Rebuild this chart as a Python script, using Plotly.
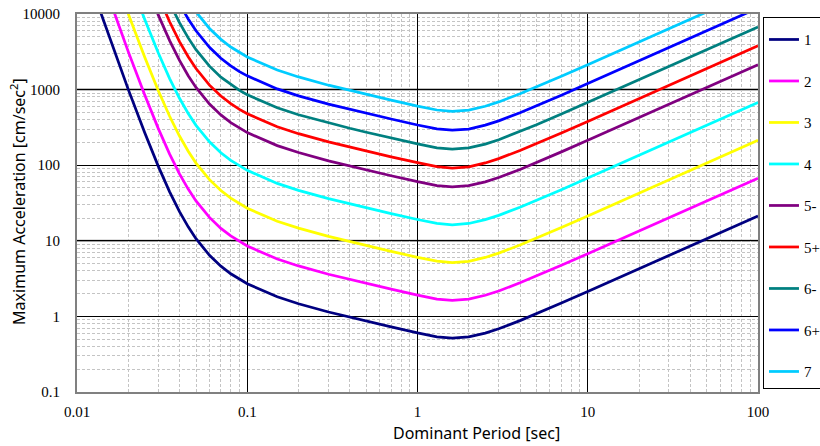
import plotly.graph_objects as go

# Dominant period [sec]
periods = [0.01, 0.012, 0.014, 0.016, 0.018, 0.02, 0.025, 0.03, 0.035, 0.04, 0.045, 0.05,
           0.06, 0.07, 0.08, 0.09, 0.1, 0.15, 0.2, 0.3, 0.4, 0.5, 0.7,
           1, 1.3, 1.6, 2, 2.5, 3, 4, 5, 7, 10, 20, 50, 100]

# Maximum acceleration [cm/sec^2] for each seismic intensity level
int_1 = [78400, 24500, 9210, 3980, 1917, 1006, 268, 97.2, 44.4, 24.3, 15.28, 10.67,
         6.44, 4.62, 3.66, 3.08, 2.70, 1.815, 1.470, 1.143, 0.974, 0.864, 0.725,
         0.605, 0.537, 0.515, 0.536, 0.602, 0.687, 0.879, 1.082, 1.500, 2.135, 4.26, 10.65, 21.3]
int_2 = [248000, 77500, 29100, 12600, 6060, 3180, 847, 307, 140, 76.8, 48.3, 33.7,
         20.4, 14.6, 11.6, 9.74, 8.54, 5.74, 4.65, 3.61, 3.08, 2.73, 2.29,
         1.913, 1.698, 1.629, 1.695, 1.904, 2.17, 2.78, 3.42, 4.74, 6.75, 13.47, 33.7, 67.4]
int_3 = [784000, 245000, 92100, 39800, 19170, 10060, 2680, 972, 444, 243, 152.8, 106.7,
         64.4, 46.2, 36.6, 30.8, 27.0, 18.15, 14.70, 11.43, 9.74, 8.64, 7.25,
         6.05, 5.37, 5.15, 5.36, 6.02, 6.87, 8.79, 10.82, 15.00, 21.35, 42.6, 106.5, 213]
int_4 = [2480000, 775000, 291000, 126000, 60600, 31800, 8470, 3070, 1400, 768, 483, 337,
         204, 146, 116, 97.4, 85.4, 57.4, 46.5, 36.1, 30.8, 27.3, 22.9,
         19.13, 16.98, 16.29, 16.95, 19.04, 21.7, 27.8, 34.2, 47.4, 67.5, 134.7, 337, 674]
int_5l = [7840000, 2450000, 921000, 398000, 191700, 100600, 26800, 9720, 4440, 2430, 1528, 1067,
          644, 462, 366, 308, 270, 181.5, 147.0, 114.3, 97.4, 86.4, 72.5,
          60.5, 53.7, 51.5, 53.6, 60.2, 68.7, 87.9, 108.2, 150.0, 213.5, 426, 1065, 2130]
int_5u = [13900000, 4360000, 1640000, 708000, 341000, 179000, 47700, 17300, 7900, 4320, 2720, 1900,
          1145, 822, 651, 548, 480, 323, 261, 203, 173, 154, 129,
          108, 95.5, 91.6, 95.3, 107.1, 122.2, 156.3, 192.4, 266.7, 379.7, 757.6, 1894, 3788]
int_6l = [24800000, 7750000, 2910000, 1260000, 606000, 318000, 84700, 30700, 14000, 7680, 4830, 3370,
          2040, 1460, 1160, 974, 854, 574, 465, 361, 308, 273, 229,
          191.3, 169.8, 162.9, 169.5, 190.4, 217, 278, 342, 474, 675, 1347, 3370, 6740]
int_6u = [44100000, 13800000, 5180000, 2240000, 1080000, 566000, 151000, 54700, 25000, 13700, 8590, 6000,
          3620, 2600, 2060, 1730, 1520, 1021, 827, 643, 548, 486, 408,
          340, 302, 290, 301, 339, 386, 494, 608, 844, 1200, 2400, 5990, 12000]
int_7 = [78400000, 24500000, 9210000, 3980000, 1917000, 1006000, 268000, 97200, 44400, 24300, 15280, 10670,
         6440, 4620, 3660, 3080, 2700, 1815, 1470, 1143, 974, 864, 725,
         605, 537, 515, 536, 602, 687, 879, 1082, 1500, 2135, 4260, 10650, 21300]

labels = ["1", "2", "3", "4", "5-", "5+", "6-", "6+", "7"]
series = [int_1, int_2, int_3, int_4, int_5l, int_5u, int_6l, int_6u, int_7]
colors = ["#000080", "#FF00FF", "#FFFF00", "#00FFFF", "#800080",
          "#FF0000", "#008080", "#0000FF", "#00CCFF"]

fig = go.Figure()
for name, vals, color in zip(labels, series, colors):
    fig.add_trace(go.Scatter(x=periods, y=vals, mode="lines", name=name,
                             legendgroup=name,
                             line=dict(color=color, width=2.75)))

serif = "Liberation Serif, DejaVu Serif, serif"
sans = "Noto Sans"

common = dict(
    type="log", dtick=1, tickformat="~g",
    showgrid=True, gridcolor="#000000", gridwidth=1,
    minor=dict(dtick="D1", showgrid=True, gridcolor="#c4c4c4", gridwidth=1,
               griddash="3px,2px", ticks=""),
    showline=True, linecolor="#808080", linewidth=2, mirror=True,
    ticks="", zeroline=False,
    tickfont=dict(family=serif, size=15, color="#000000"),
)

fig.update_layout(
    width=820, height=446,
    margin=dict(l=77, r=62, t=14, b=54, autoexpand=False),
    paper_bgcolor="white", plot_bgcolor="white",
    xaxis=dict(range=[-2, 2], ticklabelstandoff=5, **common),
    yaxis=dict(range=[-1, 4], ticklabelstandoff=12, **common),
    showlegend=True,
    legend=dict(x=1.0073, xanchor="left", y=0.992, yanchor="top",
                bgcolor="white", bordercolor="#000000", borderwidth=1,
                font=dict(family=serif, size=15, color="#000000"),
                title=dict(text=" ", font=dict(size=4)),
                tracegroupgap=19, itemwidth=30),
    shapes=[
        dict(type="line", xref="paper", yref="paper", x0=0, x1=1, y0=0.8, y1=0.8,
             line=dict(color="#808080", width=2), layer="between"),
        dict(type="line", xref="paper", yref="paper", x0=0, x1=1, y0=0.4, y1=0.4,
             line=dict(color="#808080", width=2), layer="between"),
    ],
    annotations=[
        dict(text="Dominant Period [sec]", xref="paper", yref="paper",
             x=0.587, y=-0.108, xanchor="center", yanchor="middle", showarrow=False,
             font=dict(family=sans, size=16, color="#000000")),
        dict(text="Maximum Acceleration [cm/sec<sup>2</sup>]", xref="paper", yref="paper",
             x=-0.0866, y=0.503, xanchor="center", yanchor="middle", showarrow=False,
             textangle=-90, font=dict(family=sans, size=16, color="#000000")),
    ],
)

fig.write_html("out.html", config={"displayModeBar": False},
               post_script="document.body.style.margin='0';document.body.style.padding='0';")
